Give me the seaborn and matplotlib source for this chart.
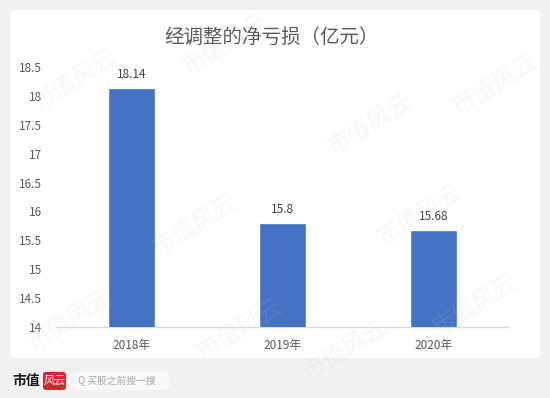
import matplotlib
matplotlib.use("Agg")
import matplotlib.pyplot as plt
from matplotlib.patches import FancyBboxPatch
import seaborn as sns
import pandas as pd

# data
years = ["2018年", "2019年", "2020年"]
net_loss = [18.14, 15.8, 15.68]
y_ticks = [14, 14.5, 15, 15.5, 16, 16.5, 17, 17.5, 18, 18.5]

sns.set_style("white")
plt.rcParams["font.family"] = ["Noto Sans CJK SC", "DejaVu Sans"]

df = pd.DataFrame({"year": years, "loss": net_loss})

W, H = 550, 398
fig = plt.figure(figsize=(5.5, 3.98), dpi=100)
fig.patch.set_facecolor("#f1f1f1")

# white card behind the chart
card = FancyBboxPatch((10 / W, 1 - 358 / H), 530 / W, 348 / H,
                      boxstyle="round,pad=0,rounding_size=0.012",
                      transform=fig.transFigure, facecolor="white",
                      edgecolor="none", zorder=-5)
fig.patches.append(card)

ax = fig.add_axes([56 / W, 1 - 327 / H, 453 / W, 260 / H])
ax.set_zorder(2)
ax.set_facecolor("none")
sns.barplot(data=df, x="year", y="loss", color="#4472C4", width=0.31,
            saturation=1, ax=ax, zorder=3)
ax.set_ylim(14, 18.5)
ax.set_yticks(y_ticks)
ax.set_yticklabels([f"{t:g}" for t in y_ticks])
ax.set_xlabel("")
ax.set_ylabel("")
for s in ["top", "right", "left"]:
    ax.spines[s].set_visible(False)
ax.spines["bottom"].set_color("#d9d9d9")
ax.spines["bottom"].set_linewidth(1)
ax.tick_params(axis="y", length=0, pad=10, labelsize=8.5, labelcolor="#595959")
ax.tick_params(axis="x", length=0, pad=9, labelsize=8.5, labelcolor="#595959")

for i, v in enumerate(net_loss):
    ax.annotate(f"{v:g}", (i, v), xytext=(0, 5), textcoords="offset points",
                ha="center", va="bottom", fontsize=8.5, color="#404040")

fig.text(0.493, 1 - 37 / H, "经调整的净亏损（亿元）", ha="center", va="center",
         fontsize=14, color="#595959")

# watermarks
marks = [(75, 80), (225, 45), (370, 125), (495, 85), (195, 225),
         (420, 215), (70, 320), (240, 330), (475, 305), (345, 350)]
for x, y in marks:
    fig.text(x / W, 1 - y / H, "市值风云", ha="center", va="center", rotation=32,
             fontsize=17, color="#c8c8c8", alpha=0.15, zorder=10,
             fontweight="light")

# footer logo and search box
fig.text(12 / W, 1 - 381 / H, "市值", ha="left", va="center", fontsize=10,
         fontweight="bold", color="#1a1a1a", zorder=12)
logo = FancyBboxPatch((43 / W, 1 - 390 / H), 23 / W, 18 / H,
                      boxstyle="round,pad=0,rounding_size=0.006",
                      transform=fig.transFigure, facecolor="#d8262b",
                      edgecolor="none", zorder=11)
fig.patches.append(logo)
fig.text(54.5 / W, 1 - 381 / H, "风云", ha="center", va="center", fontsize=8,
         color="white", style="italic", zorder=12)
pill = FancyBboxPatch((72 / W, 1 - 390 / H), 98 / W, 18 / H,
                      boxstyle="round,pad=0,rounding_size=0.016",
                      transform=fig.transFigure, facecolor="#f9f9f9",
                      edgecolor="none", zorder=11)
fig.patches.append(pill)
fig.text(78 / W, 1 - 381 / H, "Q 买股之前搜一搜", ha="left", va="center",
         fontsize=7, color="#a8a8a8", zorder=12)

fig.savefig("out.png", dpi=100, facecolor=fig.get_facecolor())
